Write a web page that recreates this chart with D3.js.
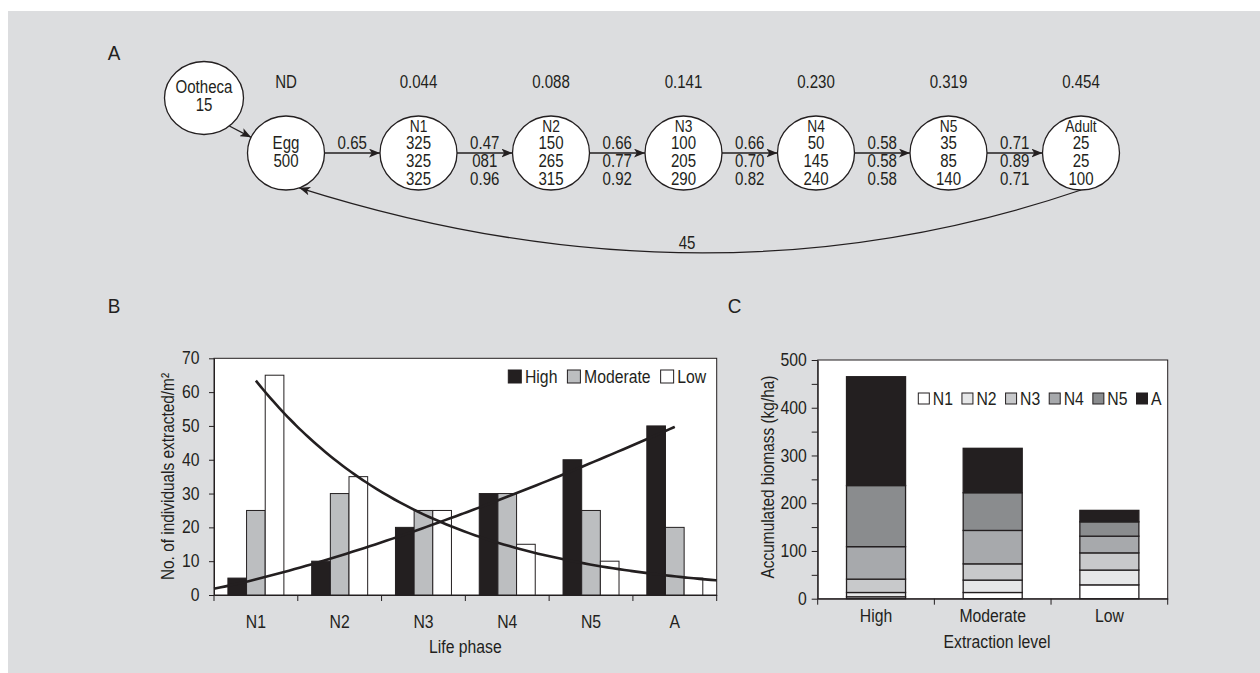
<!DOCTYPE html>
<html><head><meta charset="utf-8">
<script src="https://cdn.jsdelivr.net/npm/d3@7"></script>
<style>
html,body{margin:0;padding:0;background:#fff;}
svg{display:block;}
text{font-family:"Liberation Sans",Arial,Helvetica,sans-serif;fill:#231f20;}
</style></head><body>
<svg id="chart" width="1260" height="673"></svg>
<script>
// ---------------- DATA ----------------
// Panel A: life-cycle diagram
const stages = ["Egg","N1","N2","N3","N4","N5","Adult"];
const stageProb = ["ND","0.044","0.088","0.141","0.230","0.319","0.454"];
const oothecaCount = 15;
const eggCount = 500;
const eggReturn = 45;
const countRow1 = [325,150,100,50,35,25];   // N1..Adult
const countRow2 = [325,265,205,145,85,25];
const countRow3 = [325,315,290,240,140,100];
const transRow1 = ["0.65","0.47","0.66","0.66","0.58","0.71"];
const transRow2 = ["","081","0.77","0.70","0.58","0.89"];
const transRow3 = ["","0.96","0.92","0.82","0.58","0.71"];

// Panel B: individuals extracted
const phases = ["N1","N2","N3","N4","N5","A"];
const seriesB = ["High","Moderate","Low"];
const extractedHigh = [5,10,20,30,40,50];
const extractedModerate = [25,30,25,30,25,20];
const extractedLow = [65,35,25,15,10,5];
const yTicksB = [0,10,20,30,40,50,60,70];
const trendRangeHigh = [0.5,6];   // in phase-index units
const trendRangeLow = [1,6.5];

// Panel C: accumulated biomass
const levels = ["High","Moderate","Low"];
const stackKeys = ["N1","N2","N3","N4","N5","A"];
const biomassN1 = [4,13,29];
const biomassN2 = [9,26,31];
const biomassN3 = [28,34,36];
const biomassN4 = [68,70,35];
const biomassN5 = [128,79,30];
const biomassA = [228,93,24];
const yTicksC = [0,50,100,150,200,250,300,350,400,450,500];

// ---------------- HELPERS ----------------
const INK = "#231f20";
function cond(sel, f){
  f = f || 0.9;
  sel.each(function(){
    const L = this.getComputedTextLength();
    if (L > 0){ this.setAttribute("textLength", (L*f).toFixed(2)); this.setAttribute("lengthAdjust","spacingAndGlyphs"); }
  });
  return sel;
}
function txt(g, x, y, s, o){
  o = o || {};
  const t = g.append("text").attr("x", x).attr("y", y).attr("dy","0.35em")
    .attr("text-anchor", o.anchor || "middle").attr("font-size", o.size || 17).text(s);
  if (o.rotate) t.attr("transform", `rotate(${o.rotate},${x},${y})`);
  cond(t, o.f || 0.9);
  return t;
}

const svg = d3.select("#chart");
svg.append("rect").attr("x",8).attr("y",11).attr("width",1252).attr("height",662).attr("fill","#dcdddf");

const defs = svg.append("defs");
defs.append("marker").attr("id","arr").attr("viewBox","0 0 10 8").attr("refX",10).attr("refY",4)
  .attr("markerWidth",11).attr("markerHeight",9).attr("markerUnits","userSpaceOnUse").attr("orient","auto")
  .append("path").attr("d","M0,0L10,4L0,8L2.5,4Z").attr("fill",INK);

// panel letters
txt(svg,114,52.5,"A",{size:21});
txt(svg,114,305.5,"B",{size:21});
txt(svg,734.5,305.5,"C",{size:21});

// ---------------- PANEL A ----------------
const gA = svg.append("g");
const nodeX = d3.scalePoint().domain(stages).range([286,1081]);
const cy = 153, rx = 38.5, ry = 37;
const ooth = {cx:204, cy:98, rx:39.5, ry:36.5};
const NF = 17.5, NC = 0.86;

// arrows between stages
for (let i = 0; i < stages.length-1; i++){
  const x1 = nodeX(stages[i]) + rx, x2 = nodeX(stages[i+1]) - rx;
  gA.append("line").attr("x1",x1).attr("y1",cy).attr("x2",x2).attr("y2",cy)
    .attr("stroke",INK).attr("stroke-width",1.3).attr("marker-end","url(#arr)");
  const mx = (x1+x2)/2;
  txt(gA, mx, cy-10, transRow1[i], {size:NF, f:NC});
  if (transRow2[i]) txt(gA, mx, cy+8, transRow2[i], {size:NF, f:NC});
  if (transRow3[i]) txt(gA, mx, cy+26, transRow3[i], {size:NF, f:NC});
}
// ootheca -> egg
const a1 = 50*Math.PI/180, a2 = 205*Math.PI/180;
gA.append("line")
  .attr("x1", ooth.cx + ooth.rx*Math.cos(a1)).attr("y1", ooth.cy + ooth.ry*Math.sin(a1))
  .attr("x2", nodeX("Egg") + rx*Math.cos(a2)).attr("y2", cy + ry*Math.sin(a2))
  .attr("stroke",INK).attr("stroke-width",1.3).attr("marker-end","url(#arr)");
// return arc adult -> egg
const ae = 70*Math.PI/180;
const sx = nodeX("Adult"), sy = cy + ry;
const ex = nodeX("Egg") + rx*Math.cos(ae), ey = cy + ry*Math.sin(ae);
const path = d3.path();
path.moveTo(sx, sy);
path.quadraticCurveTo((sx+ex)/2 + 18, cy + 164, ex, ey);
gA.append("path").attr("d", path.toString()).attr("fill","none").attr("stroke",INK)
  .attr("stroke-width",1.3).attr("marker-end","url(#arr)");
txt(gA, (sx+ex)/2 - 3, 243, String(eggReturn), {size:NF, f:NC});

// nodes
gA.append("ellipse").attr("cx",ooth.cx).attr("cy",ooth.cy).attr("rx",ooth.rx).attr("ry",ooth.ry)
  .attr("fill","#fff").attr("stroke",INK).attr("stroke-width",1.3);
txt(gA, ooth.cx, 86.7, "Ootheca", {size:NF, f:NC});
txt(gA, ooth.cx, 105, String(oothecaCount), {size:NF, f:NC});
gA.selectAll("ellipse.node").data(stages).join("ellipse").attr("class","node")
  .attr("cx", d => nodeX(d)).attr("cy", cy).attr("rx", rx).attr("ry", ry)
  .attr("fill","#fff").attr("stroke",INK).attr("stroke-width",1.3);
stages.forEach((s, i) => {
  const x = nodeX(s);
  txt(gA, x, 82, stageProb[i], {size:NF, f:NC});
  if (i === 0){
    txt(gA, x, cy-10, s, {size:NF, f:NC});
    txt(gA, x, cy+8, String(eggCount), {size:NF, f:NC});
  } else {
    txt(gA, x, cy-26.5, s, {size:16, f:NC});
    txt(gA, x, cy-10, String(countRow1[i-1]), {size:NF, f:NC});
    txt(gA, x, cy+8, String(countRow2[i-1]), {size:NF, f:NC});
    txt(gA, x, cy+26, String(countRow3[i-1]), {size:NF, f:NC});
  }
});

// ---------------- PANEL B ----------------
const gB = svg.append("g");
const xB = d3.scaleBand().domain(phases).range([214,716.7]);
const bw = xB.bandwidth();
const xB1 = d3.scaleBand().domain(seriesB).range([0,bw]).paddingOuter(0.745);
const yB = d3.scaleLinear().domain([0,70]).range([595,358.3]);
const colB = d3.scaleOrdinal().domain(seriesB).range([INK,"#bcbec0","#ffffff"]);
const valsB = [extractedHigh, extractedModerate, extractedLow];

gB.append("rect").attr("x",xB.range()[0]).attr("y",yB(70)).attr("width",xB.range()[1]-xB.range()[0])
  .attr("height",yB(0)-yB(70)).attr("fill","#fff").attr("stroke",INK).attr("stroke-width",1);

const barsB = [];
phases.forEach((p,i) => seriesB.forEach((s,j) => barsB.push({p, s, v: valsB[j][i]})));
gB.selectAll("rect.bar").data(barsB).join("rect").attr("class","bar")
  .attr("x", d => xB(d.p) + xB1(d.s)).attr("width", xB1.bandwidth())
  .attr("y", d => yB(d.v)).attr("height", d => yB(0) - yB(d.v))
  .attr("fill", d => colB(d.s)).attr("stroke", INK).attr("stroke-width", 1);

// trend lines (least-squares fits computed from the data)
const idx = phases.map((p,i) => i+1);
function linfit(xs, ys){
  const mx = d3.mean(xs), my = d3.mean(ys);
  let sxy = 0, sxx = 0;
  xs.forEach((x,i) => { sxy += (x-mx)*(ys[i]-my); sxx += (x-mx)*(x-mx); });
  const b = sxy/sxx; return {a: my - b*mx, b};
}
const pw = linfit(idx.map(Math.log), extractedHigh.map(Math.log));
const powerF = t => Math.exp(pw.a) * Math.pow(t, pw.b);
const ex1 = linfit(idx, extractedLow.map(Math.log));
const expF = t => Math.exp(ex1.a + ex1.b*t);
const tPix = t => xB(phases[0]) + bw/2 + (t-1)*bw;
const lineB = d3.line().x(d => tPix(d[0])).y(d => yB(d[1])).curve(d3.curveBasis);
function samples(r, f){ const n = 80, out = []; for (let k = 0; k <= n; k++){ const t = r[0] + (r[1]-r[0])*k/n; out.push([t, f(t)]); } return out; }
gB.append("path").attr("d", lineB(samples(trendRangeHigh, powerF))).attr("fill","none").attr("stroke",INK).attr("stroke-width",2.6);
gB.append("path").attr("d", lineB(samples(trendRangeLow, expF))).attr("fill","none").attr("stroke",INK).attr("stroke-width",2.6);

// axes
const axYB = gB.append("g").attr("transform",`translate(${xB.range()[0]},0)`)
  .call(d3.axisLeft(yB).tickValues(yTicksB).tickSize(5).tickSizeOuter(0).tickPadding(9.5));
axYB.attr("font-size",17.5).attr("color",INK);
cond(axYB.selectAll("text"));
const axXB = gB.append("g").attr("transform",`translate(0,${yB(0)})`)
  .call(d3.axisBottom(xB).tickSize(0).tickSizeOuter(0).tickPadding(20.5));
axXB.attr("font-size",17.5).attr("color",INK);
cond(axXB.selectAll("text"));
const edgesB = phases.map(p => xB(p)).concat([xB.range()[1]]);
gB.selectAll("line.edge").data(edgesB).join("line").attr("class","edge")
  .attr("x1", d => d).attr("x2", d => d).attr("y1", yB(0)).attr("y2", yB(0)+6)
  .attr("stroke", INK).attr("stroke-width",1);
txt(gB, (xB.range()[0]+xB.range()[1])/2, 646.7, "Life phase", {size:17.5});
txt(gB, 167.7, 476.5, "No. of individuals extracted/m²", {rotate:-90, size:17.5, f:0.88});

// legend B
let lx = 508.3;
seriesB.forEach(s => {
  gB.append("rect").attr("x", lx).attr("y", 370).attr("width", 13).attr("height", 13)
    .attr("fill", colB(s)).attr("stroke", INK).attr("stroke-width", 1);
  const t = txt(gB, lx + 16.7, 376.5, s, {anchor:"start", size:17.5});
  lx = lx + 16.7 + parseFloat(t.attr("textLength")) + 10;
});

// ---------------- PANEL C ----------------
const gC = svg.append("g");
const xC = d3.scaleBand().domain(levels).range([817.7,1167.7]).paddingInner(0.494).paddingOuter(0.247);
const yC = d3.scaleLinear().domain([0,500]).range([598.7,360]);
const colC = d3.scaleOrdinal().domain(stackKeys).range(["#ffffff","#e6e7e8","#c8c9cb","#a7a9ac","#8a8c8e",INK]);
const bioCols = [biomassN1, biomassN2, biomassN3, biomassN4, biomassN5, biomassA];
const tableC = levels.map((l,i) => { const o = {level:l}; stackKeys.forEach((k,j) => o[k] = bioCols[j][i]); return o; });
const stacked = d3.stack().keys(stackKeys)(tableC);

gC.append("rect").attr("x",xC.range()[0]).attr("y",yC(500)).attr("width",xC.range()[1]-xC.range()[0])
  .attr("height",yC(0)-yC(500)).attr("fill","#fff").attr("stroke",INK).attr("stroke-width",1);

gC.selectAll("g.layer").data(stacked).join("g").attr("class","layer")
  .attr("fill", d => colC(d.key))
  .selectAll("rect").data(d => d).join("rect")
  .attr("x", d => xC(d.data.level)).attr("width", xC.bandwidth())
  .attr("y", d => yC(d[1])).attr("height", d => yC(d[0]) - yC(d[1]))
  .attr("stroke", INK).attr("stroke-width", 1.3);

const axYC = gC.append("g").attr("transform",`translate(${xC.range()[0]},0)`)
  .call(d3.axisLeft(yC).tickValues(yTicksC).tickSize(6).tickSizeOuter(0).tickPadding(5)
    .tickFormat(d => d % 100 === 0 ? String(d) : ""));
axYC.attr("font-size",17.5).attr("color",INK);
cond(axYC.selectAll("text"));
const axXC = gC.append("g").attr("transform",`translate(0,${yC(0)})`)
  .call(d3.axisBottom(xC).tickSize(0).tickSizeOuter(0).tickPadding(10.6));
axXC.attr("font-size",17.5).attr("color",INK);
cond(axXC.selectAll("text"));
const edgesC = d3.range(levels.length+1).map(i => xC.range()[0] + i*xC.step());
gC.selectAll("line.edge").data(edgesC).join("line").attr("class","edge")
  .attr("x1", d => d).attr("x2", d => d).attr("y1", yC(0)).attr("y2", yC(0)+6)
  .attr("stroke", INK).attr("stroke-width",1);
txt(gC, 997, 641.7, "Extraction level", {size:17.5});
txt(gC, 768, 477, "Accumulated biomass (kg/ha)", {rotate:-90, size:17.5, f:0.88});

// legend C
let cx2 = 918.3;
stackKeys.forEach(k => {
  gC.append("rect").attr("x", cx2).attr("y", 393).attr("width", 11).attr("height", 11)
    .attr("fill", colC(k)).attr("stroke", INK).attr("stroke-width", 1);
  const t = txt(gC, cx2 + 14.5, 398.5, k, {anchor:"start", size:17.5});
  cx2 = cx2 + 14.5 + parseFloat(t.attr("textLength")) + 9;
});
</script>
</body></html>
